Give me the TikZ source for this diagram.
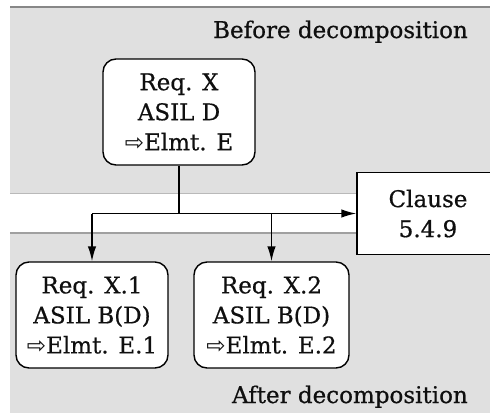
\documentclass[tikz,border=0pt]{standalone}
\usepackage{fontspec}
\setmainfont[FakeBold=0.6]{DejaVu Serif}
\newfontfamily\arrowfont{DejaVu Sans}
\usetikzlibrary{arrows.meta}
\definecolor{band}{RGB}{224,224,224}
\definecolor{rimdark}{RGB}{135,135,135}
\definecolor{rimlight}{RGB}{185,185,185}
\definecolor{rimmid}{RGB}{160,160,160}
\definecolor{ink}{RGB}{15,15,15}
\begin{document}
\begin{tikzpicture}[x=1pt,y=-1pt,
  txt/.style={font=\fontsize{23}{30}\selectfont\addfontfeature{FakeBold=0.6}, text=ink},
  reqbox/.style={txt, draw=black, line width=1.4pt, fill=white, rounded corners=13pt,
    align=center, inner sep=0pt, minimum height=106pt},
  clausebox/.style={txt, draw=black, line width=1.4pt, fill=white, align=center,
    inner sep=0pt, minimum width=142pt, minimum height=82pt},
  link/.style={draw=black, line width=1.5pt},
  tip/.style={-{Latex[length=15pt,width=8.5pt]}}]
\useasboundingbox (0,0) rectangle (490,413);
% shaded bands before and after the decomposition
\fill[white] (0,0) rectangle (490,413);
\fill[band] (10,7) rectangle (490,193);
\fill[band] (10,233) rectangle (490,413);
\draw[rimdark, line width=1.6pt] (10,7) -- (490,7);
\draw[rimlight, line width=1pt] (10,193) -- (490,193);
\draw[rimmid, line width=1.4pt] (10,233) -- (490,233);
% band captions
\node[txt, anchor=base east, inner sep=0pt] (before) at (468,38) {Before decomposition};
\node[txt, anchor=base east, inner sep=0pt] (after) at (468,403) {After decomposition};
% requirements
\node[reqbox, minimum width=152pt] (reqx) at (179,112) {Req. X\\ASIL D\\{\arrowfont ⇨}Elmt. E};
\node[reqbox, minimum width=152pt] (reqxa) at (92,315) {Req. X.1\\ASIL B(D)\\{\arrowfont ⇨}Elmt. E.1};
\node[reqbox, minimum width=155pt] (reqxb) at (271.5,315) {Req. X.2\\ASIL B(D)\\{\arrowfont ⇨}Elmt. E.2};
\node[clausebox] (clause) at (428,213.5) {Clause\\5.4.9};
% branching connectors
\coordinate (j) at (reqx.south |- clause.west);
\coordinate (jl) at (reqxa.north |- clause.west);
\coordinate (jr) at (reqxb.north |- clause.west);
\draw[link] (reqx.south) -- (j);
\draw[link, tip] (jl) -- (clause.west);
\draw[link, tip] (jl) -- (reqxa.north);
\draw[link, tip] (jr) -- (reqxb.north);
\end{tikzpicture}
\end{document}
